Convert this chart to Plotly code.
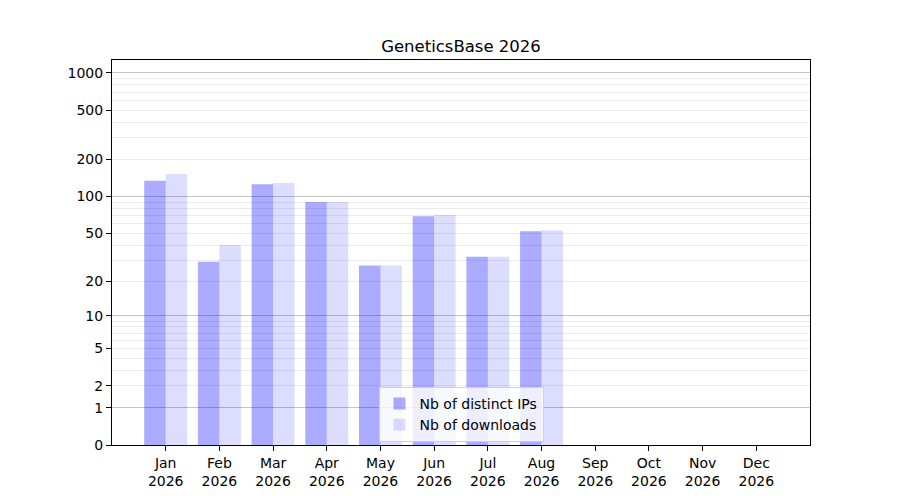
import numpy as np
import plotly.graph_objects as go

# Monthly stats.
months = ["Jan", "Feb", "Mar", "Apr", "May", "Jun",
          "Jul", "Aug", "Sep", "Oct", "Nov", "Dec"]
year = "2026"
distinct_ips = [134, 29, 126, 90, 27, 69, 32, 52, 0, 0, 0, 0]
downloads = [152, 40, 129, 90, 27, 71, 32, 53, 0, 0, 0, 0]

y_tick_values = [0, 1, 2, 5, 10, 20, 50, 100, 200, 500, 1000]
major_grid_values = [1, 10, 100, 1000]
minor_grid_values = [2, 3, 4, 5, 6, 7, 8, 9,
                     20, 30, 40, 50, 60, 70, 80, 90,
                     200, 300, 400, 500, 600, 700, 800, 900]


def symlog(values):
    # y axis is log10(1 + v), so zero months sit on the baseline
    return list(np.log10(1 + np.asarray(values, dtype=float)))


x = list(range(len(months)))
tick_text = [f"{m}<br>{year}" for m in months]

fig = go.Figure()
fig.add_trace(go.Bar(x=x, y=symlog(distinct_ips), customdata=distinct_ips,
                     name="Nb of distinct IPs",
                     marker_color="rgba(0,0,255,0.33)", marker_line_width=0,
                     hovertemplate="%{customdata}<extra>Nb of distinct IPs</extra>"))
fig.add_trace(go.Bar(x=x, y=symlog(downloads), customdata=downloads,
                     name="Nb of downloads",
                     marker_color="rgba(0,0,255,0.135)", marker_line_width=0,
                     hovertemplate="%{customdata}<extra>Nb of downloads</extra>"))

# Invisible trace so the overlay axis carrying the decade grid gets drawn.
fig.add_trace(go.Scatter(x=[x[0]], y=[0], yaxis="y2", mode="markers",
                         marker_opacity=0, showlegend=False, hoverinfo="skip"))

y_range = [0, 3.105]

# the page body adds an 8px offset, so margins are shifted to compensate
fig.update_layout(
    width=900, height=500,
    margin=dict(l=104, r=98, t=52, b=63),
    paper_bgcolor="white", plot_bgcolor="white",
    font=dict(family="DejaVu Sans", size=14, color="black"),
    title=dict(text="GeneticsBase 2026", x=(104 + 349) / 900, xanchor="center",
               y=1 - 38 / 500, yanchor="middle", font_size=16.5),
    barmode="group", bargap=0.2, bargroupgap=0,
    xaxis=dict(tickvals=x, ticktext=tick_text, range=[-1, 12],
               showgrid=False, zeroline=False,
               showline=True, linecolor="black", linewidth=1, mirror=True,
               ticks="outside", ticklen=5, tickcolor="black"),
    yaxis=dict(range=y_range, tickvals=symlog(y_tick_values),
               ticktext=[str(v) for v in y_tick_values],
               showgrid=False, zeroline=False,
               showline=True, linecolor="black", linewidth=1, mirror=True,
               ticks="outside", ticklen=5, tickcolor="black",
               minor=dict(tickmode="array", tickvals=symlog(minor_grid_values),
                          showgrid=True, gridcolor="#ebebeb", gridwidth=1,
                          ticks="")),
    yaxis2=dict(overlaying="y", range=y_range,
                tickvals=symlog(major_grid_values), showticklabels=False,
                showgrid=True, gridcolor="#c4c4c4", gridwidth=1,
                zeroline=False, showline=False, ticks=""),
    legend=dict(x=0.5, xanchor="center", y=0.008, yanchor="bottom",
                bgcolor="rgba(255,255,255,0.8)", bordercolor="#d0d0d0",
                borderwidth=1, font_size=14, tracegroupgap=0),
)

fig.write_html("out.html")
